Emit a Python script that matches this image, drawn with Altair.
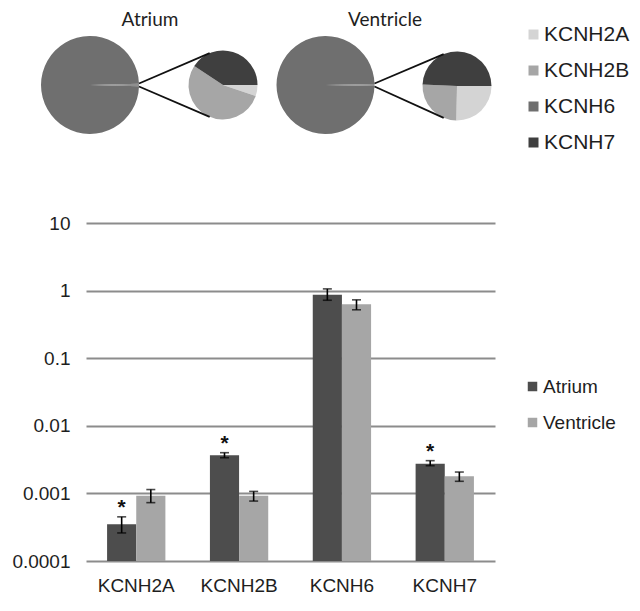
import math
import altair as alt
import pandas as pd

# ---------------- data ----------------
genes = ["KCNH2A", "KCNH2B", "KCNH6", "KCNH7"]
tissues = ["Atrium", "Ventricle"]
atrium_mean = [0.00035, 0.00366, 0.87, 0.00275]
atrium_lo = [0.00026, 0.00337, 0.72, 0.00257]
atrium_hi = [0.00045, 0.00400, 1.06, 0.00305]
ventricle_mean = [0.00092, 0.00092, 0.63, 0.00179]
ventricle_lo = [0.00073, 0.00077, 0.52, 0.00151]
ventricle_hi = [0.00114, 0.00107, 0.73, 0.00207]
significant = ["KCNH2A", "KCNH2B", "KCNH7"]  # marked * above the Atrium bar
y_ticks = [0.0001, 0.001, 0.01, 0.1, 1, 10]
y_floor = 0.0001
other_label = "Other"

# ---------------- styles ----------------
gene_colors = ["#d4d4d4", "#a6a6a6", "#6f6f6f", "#3f3f3f"]
other_color = "#8e8e8e"
tissue_colors = ["#4d4d4d", "#a6a6a6"]
TEXT = "#1e1e1e"
FONT = "Liberation Sans"

# ---------------- layout (view coords, origin = top-left of bar plot) ----------------
W, H = 409, 338
PAD = {"left": 78, "top": 215, "right": 137, "bottom": 38}
PIE_Y = -138
BIG_R = 49
SMALL_R = 34.5
pies_layout = {
    "Atrium": dict(big=(4, PIE_Y), small=(137, PIE_Y), title=(64, -203)),
    "Ventricle": dict(big=(239.5, PIE_Y), small=(371, PIE_Y + 1), title=(299, -203)),
}

# ---------------- tables ----------------
means = {"Atrium": atrium_mean, "Ventricle": ventricle_mean}
los = {"Atrium": atrium_lo, "Ventricle": ventricle_lo}
his = {"Atrium": atrium_hi, "Ventricle": ventricle_hi}
rows = []
for t in tissues:
    for i, g in enumerate(genes):
        rows.append(dict(gene=g, tissue=t, mean=means[t][i], lo=los[t][i], hi=his[t][i]))
bars_df = pd.DataFrame(rows)
sig_df = bars_df[(bars_df.tissue == "Atrium") & (bars_df.gene.isin(significant))]

x_enc = alt.X("gene:N", sort=genes,
              scale=alt.Scale(domain=genes, paddingInner=0.433, paddingOuter=0.205),
              axis=alt.Axis(title=None, domain=False, ticks=False, labelAngle=0,
                            labelPadding=15, labelFontSize=19, labelFont=FONT,
                            labelColor=TEXT, grid=False))
xo_enc = alt.XOffset("tissue:N", sort=tissues,
                     scale=alt.Scale(domain=tissues, paddingInner=0, paddingOuter=0))
y_scale = alt.Scale(type="log", domain=[y_ticks[0], y_ticks[-1]], nice=False)

bars = alt.Chart(bars_df).mark_bar().encode(
    x=x_enc,
    xOffset=xo_enc,
    y=alt.Y("mean:Q", scale=y_scale,
            axis=alt.Axis(title=None, values=y_ticks, format="~g", domain=False,
                          ticks=False, labelPadding=16, labelFontSize=19,
                          labelFont=FONT, labelColor=TEXT, grid=True,
                          gridColor="#8c8c8c", gridWidth=2)),
    y2=alt.Y2(datum=y_floor),
    color=alt.Color("tissue:N", sort=tissues,
                    scale=alt.Scale(domain=tissues, range=tissue_colors),
                    legend=alt.Legend(title=None, orient="none", legendX=437, legendY=154,
                                      symbolType="square", symbolSize=90,
                                      symbolStrokeWidth=0, labelFontSize=19,
                                      labelFont=FONT, labelColor=TEXT, rowPadding=16,
                                      labelOffset=1, padding=0)),
)

err = alt.Chart(bars_df).mark_rule(color="black", strokeWidth=1.6).encode(
    x=alt.X("gene:N", sort=genes), xOffset=alt.XOffset("tissue:N", sort=tissues),
    y=alt.Y("lo:Q"), y2="hi:Q")
cap_hi = alt.Chart(bars_df).mark_tick(color="black", thickness=1.6, size=9).encode(
    x=alt.X("gene:N", sort=genes), xOffset=alt.XOffset("tissue:N", sort=tissues),
    y=alt.Y("hi:Q"))
cap_lo = alt.Chart(bars_df).mark_tick(color="black", thickness=1.6, size=9).encode(
    x=alt.X("gene:N", sort=genes), xOffset=alt.XOffset("tissue:N", sort=tissues),
    y=alt.Y("lo:Q"))
stars = alt.Chart(sig_df).mark_text(text="*", fontSize=21, fontWeight="bold",
                                    font=FONT, color="#111", baseline="alphabetic",
                                    dy=-3).encode(
    x=alt.X("gene:N", sort=genes), xOffset=alt.XOffset("tissue:N", sort=tissues),
    y=alt.Y("hi:Q"))

# ---------------- pies ----------------
fill_scale = alt.Scale(domain=genes + [other_label], range=gene_colors + [other_color])
pie_legend = alt.Legend(title=None, orient="none", legendX=437, legendY=-199,
                        values=genes, symbolType="square", symbolSize=100,
                        symbolStrokeWidth=0, labelFontSize=21, labelFont=FONT,
                        labelColor=TEXT, rowPadding=14, labelOffset=0, padding=0)

small_genes = ["KCNH2A", "KCNH2B", "KCNH7"]
layers = []
for t in tissues:
    lay = pies_layout[t]
    vals = dict(zip(genes, means[t]))
    small_df = pd.DataFrame({"gene": small_genes,
                             "value": [vals[g] for g in small_genes],
                             "ord": [0, 1, 2]})
    other_sum = sum(vals[g] for g in small_genes)
    big_df = pd.DataFrame({"gene": [other_label, "KCNH6"],
                           "value": [other_sum, vals["KCNH6"]],
                           "ord": [0, 1]})
    frac = other_sum / (other_sum + vals["KCNH6"])
    big_start = math.pi / 2 - frac * math.pi
    bx, by = lay["big"]
    sx, sy = lay["small"]
    big = alt.Chart(big_df).mark_arc(radius=BIG_R).encode(
        theta=alt.Theta("value:Q", stack=True,
                        scale=alt.Scale(range=[big_start, big_start + 2 * math.pi])),
        order=alt.Order("ord:Q"),
        fill=alt.Fill("gene:N", scale=fill_scale, legend=pie_legend),
        x=alt.value(bx), y=alt.value(by))
    small = alt.Chart(small_df).mark_arc(radius=SMALL_R).encode(
        theta=alt.Theta("value:Q", stack=True,
                        scale=alt.Scale(range=[math.pi / 2, math.pi / 2 + 2 * math.pi])),
        order=alt.Order("ord:Q"),
        fill=alt.Fill("gene:N", scale=fill_scale, legend=pie_legend),
        x=alt.value(sx), y=alt.value(sy))
    # connectors: big pie right edge -> points on the small pie
    a = math.radians(22.7)
    x0 = bx + BIG_R
    xt = sx - SMALL_R * math.sin(a)
    yt = sy - SMALL_R * math.cos(a)
    yb = sy + SMALL_R * math.cos(a)
    l1 = alt.Chart().mark_rule(color="#111", strokeWidth=1.8).encode(
        x=alt.value(x0), y=alt.value(by - 1.5), x2=alt.value(xt), y2=alt.value(yt))
    l2 = alt.Chart().mark_rule(color="#111", strokeWidth=1.8).encode(
        x=alt.value(x0), y=alt.value(by + 1.5), x2=alt.value(xt), y2=alt.value(yb))
    tx, ty = lay["title"]
    title = alt.Chart().mark_text(text=t, font="Lato", fontSize=19, color=TEXT,
                                  align="center", baseline="middle").encode(
        x=alt.value(tx), y=alt.value(ty))
    layers += [big, small, l1, l2, title]

chart = alt.layer(bars, err, cap_hi, cap_lo, stars, *layers).resolve_scale(
    theta="independent"
).properties(
    width=W, height=H, padding=PAD,
    autosize=alt.AutoSizeParams(type="none"),
    background="white",
).configure_view(stroke=None)

chart.save("out.html", embed_options={"renderer": "svg", "actions": False})
